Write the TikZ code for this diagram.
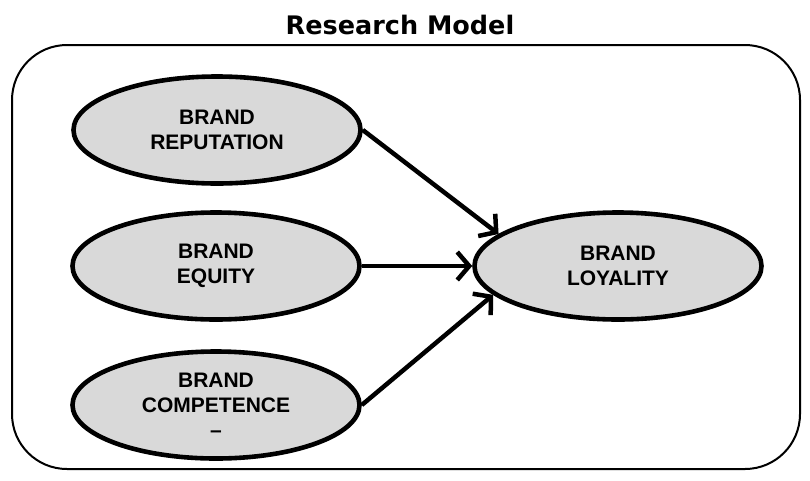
\documentclass[tikz,border=0pt]{standalone}
\usepackage{fontspec}
\setmainfont{Liberation Sans}
\newfontfamily\titlefont{DejaVu Sans}
\usetikzlibrary{shapes.geometric,arrows.meta}
\definecolor{ellfill}{RGB}{217,217,217}
\begin{document}
\begin{tikzpicture}[x=1pt,y=-1pt,
  construct/.style={ellipse, draw, line width=4.6pt, fill=ellfill,
    minimum width=287pt, minimum height=107pt, inner sep=0pt, align=center,
    font=\fontsize{21}{25}\selectfont\bfseries},
  link/.style={line width=4.5pt, -{Straight Barb[length=12pt,width=28pt]}},
  frame/.style={draw, line width=2pt, rounded corners=55pt}]
\useasboundingbox (0,0) rectangle (810,480);
\node[font=\titlefont\bfseries\fontsize{25.5}{30}\selectfont] (title) at (400,25) {Research Model};
\node[frame, minimum width=788pt, minimum height=424pt] (box) at (406,257) {};
\node[construct] (rep) at (217,130) {BRAND\\REPUTATION};
\node[construct] (eq) at (216,266) {BRAND\\EQUITY};
\node[construct] (comp) at (216,405) {BRAND\\COMPETENCE\\--};
\node[construct] (loy) at (618,266) {BRAND\\LOYALITY};
\draw[link] (rep.east) -- (loy.165);
\draw[link] (eq.east) -- (loy.west);
\draw[link] (comp.east) -- (loy.193);
\end{tikzpicture}
\end{document}
